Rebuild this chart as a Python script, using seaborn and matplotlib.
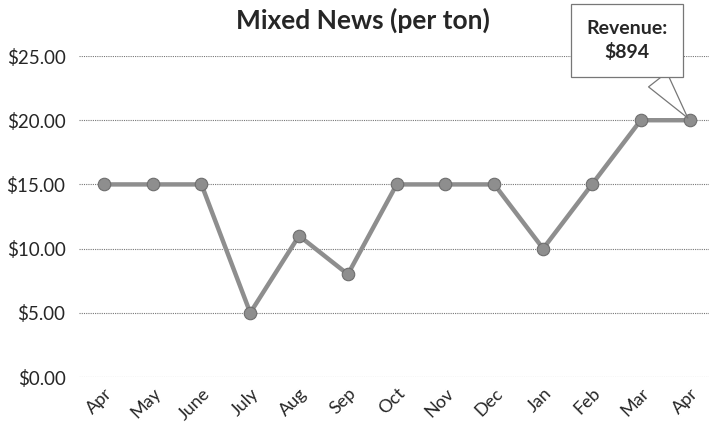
import numpy as np
from matplotlib import pyplot as plt
import seaborn as sns
import pandas as pd

months = ["Apr", "May", "June", "July", "Aug", "Sep", "Oct", "Nov", "Dec", "Jan", "Feb", "Mar", "Apr "]
price = [15, 15, 15, 5, 11, 8, 15, 15, 15, 10, 15, 20, 20]
y_ticks = [0, 5, 10, 15, 20, 25]

df = pd.DataFrame({"Month": months, "Price": price})

sns.set_style("white")
plt.rcParams['font.family'] = ['Lato', 'DejaVu Sans']

fig = plt.figure(figsize=(7.09, 4.33), dpi=100)
ax = fig.add_axes([0.112, 0.1293, 0.895, 0.7413])

sns.lineplot(data=df, x="Month", y="Price", ax=ax, color="#8e8e8e", linewidth=3.2,
             marker="o", markersize=9, markeredgecolor="#6e6e6e", markeredgewidth=0.8,
             clip_on=False, sort=False)

ax.set_xlim(-0.5, len(months) - 0.5)
ax.set_ylim(0, 25)
ax.set_yticks(y_ticks)
ax.set_yticklabels([f"${v:.2f}" for v in y_ticks], fontsize=13.5)
ax.set_xticks(range(len(months)))
ax.set_xticklabels([m.strip() for m in months], rotation=45, ha="right",
                   rotation_mode="anchor", fontsize=13)
ax.tick_params(axis="both", length=0, pad=10)
ax.tick_params(axis="x", pad=6)
ax.set_xlabel("")
ax.set_ylabel("")
for s in ax.spines.values():
    s.set_visible(False)
ax.yaxis.grid(True, color="#777777", linestyle=(0, (1, 1)), linewidth=0.8)
ax.set_axisbelow(True)

fig.text(0.512, 0.953, "Mixed News (per ton)", ha="center", va="center",
         fontsize=19, fontweight="bold")

# callout
ax.annotate("Revenue:\n$894", xy=(12, 20), xytext=(10.72, 26.2), textcoords="data",
            ha="center", va="center", fontsize=14, fontweight="bold", linespacing=1.45,
            annotation_clip=False,
            bbox=dict(boxstyle="square,pad=0.8", fc="white", ec="#777777", lw=0.9),
            arrowprops=dict(arrowstyle="wedge,tail_width=1.2,shrink_factor=0.5",
                            fc="white", ec="#777777", lw=0.9))

plt.savefig("out.png", dpi=100)
